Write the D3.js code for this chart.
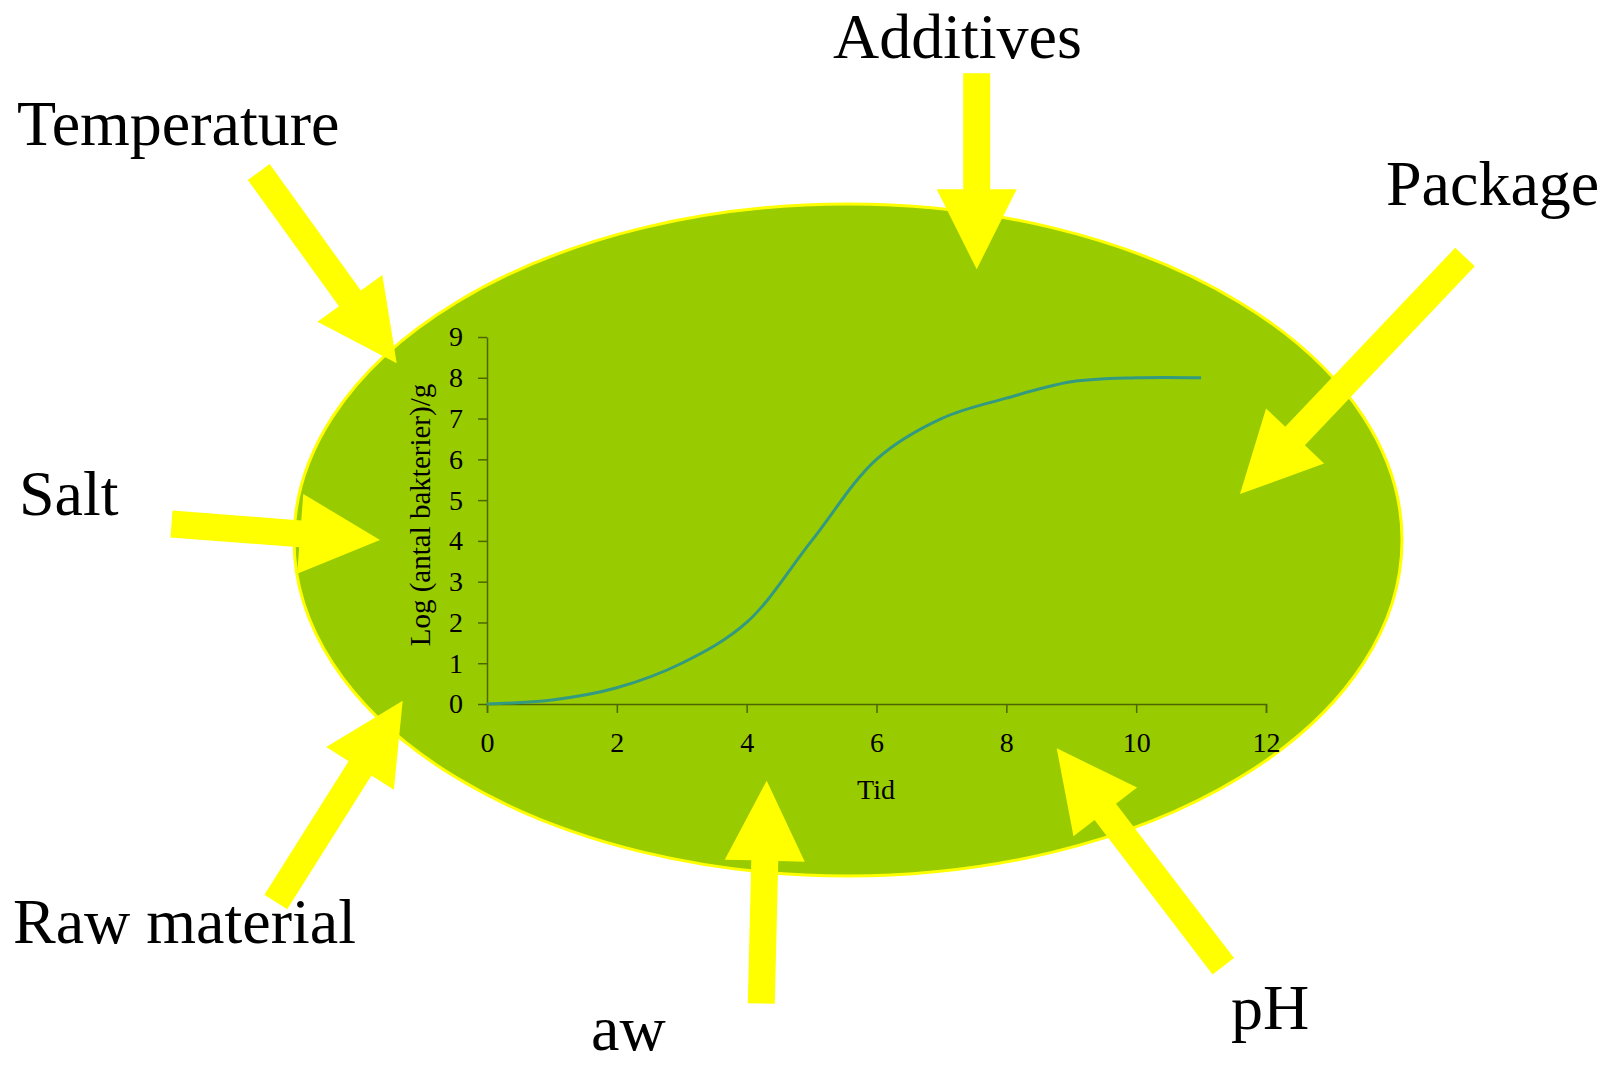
<!DOCTYPE html>
<html>

<head>
    <meta charset="utf-8">
    <script src="https://d3js.org/d3.v7.min.js"></script>
    <style type="text/css">
        body {
            margin: 0;
            background: white;
        }

        .factor {
            font-family: "Liberation Serif", "Times New Roman", serif;
            font-size: 64px;
            fill: black;
        }

        .axis text {
            font-family: "Liberation Serif", "Times New Roman", serif;
            font-size: 28px;
            fill: black;
        }

        .axis path,
        .axis line {
            stroke: #4d6600;
            stroke-width: 1.5;
        }

        .label {
            font-family: "Liberation Serif", "Times New Roman", serif;
            font-size: 28px;
            fill: black;
        }
    </style>
</head>

<body>

    <div id="my_dataviz"></div>

    <script>

        // growth curve
        const tid = [0, 1, 2, 3, 4, 5, 6, 7, 8, 9, 10, 11];
        const logBakterier = [0, 0.1, 0.4, 1, 2, 4, 6, 7, 7.5, 7.9, 8, 8];

        const xTicks = [0, 2, 4, 6, 8, 10, 12];
        const yTicks = [0, 1, 2, 3, 4, 5, 6, 7, 8, 9];

        // factors around the food
        const factors = ["Temperature", "Additives", "Package", "Salt", "Raw material", "aw", "pH"];

        const W = 1616, H = 1066;

        const svg = d3.select("#my_dataviz")
            .append("svg")
            .attr("width", W)
            .attr("height", H);

        // the food (ellipse)
        svg.append("ellipse")
            .attr("cx", 848)
            .attr("cy", 540)
            .attr("rx", 554)
            .attr("ry", 336)
            .attr("fill", "#99cc00")
            .attr("stroke", "#ffff00")
            .attr("stroke-width", 3);

        // chart inside the ellipse
        const plot = { left: 487, right: 1266, top: 337, bottom: 704 };

        const x = d3.scaleLinear()
            .domain([0, 12])
            .range([plot.left, plot.right]);

        const y = d3.scaleLinear()
            .domain([0, 9])
            .range([plot.bottom, plot.top]);

        svg.append("g")
            .attr("class", "axis")
            .attr("transform", `translate(0, ${plot.bottom})`)
            .call(d3.axisBottom(x)
                .tickValues(xTicks)
                .tickSize(9)
                .tickSizeOuter(9)
                .tickPadding(19)
                .tickFormat(d3.format("d")));

        svg.append("g")
            .attr("class", "axis")
            .attr("transform", `translate(${plot.left}, 0)`)
            .call(d3.axisLeft(y)
                .tickValues(yTicks)
                .tickSize(9)
                .tickSizeOuter(0)
                .tickPadding(15)
                .tickFormat(d3.format("d")));

        svg.selectAll(".axis text").attr("font-family", null);

        svg.append("path")
            .datum(tid.map((t, i) => ({ t: t, v: logBakterier[i] })))
            .attr("fill", "none")
            .attr("stroke", "#339980")
            .attr("stroke-width", 3)
            .attr("d", d3.line()
                .curve(d3.curveCatmullRom)
                .x(d => x(d.t))
                .y(d => y(d.v)));

        svg.append("text")
            .attr("class", "label")
            .attr("text-anchor", "middle")
            .attr("x", 876)
            .attr("y", 799)
            .text("Tid");

        svg.append("text")
            .attr("class", "label")
            .attr("text-anchor", "middle")
            .style("font-size", "29px")
            .attr("transform", "translate(430, 515) rotate(-90)")
            .text("Log (antal bakterier)/g");

        // arrows: tail -> tip
        const arrows = [
            { tail: [258.7, 172], tip: [396.7, 363.3] },
            { tail: [976.7, 73.3], tip: [976.7, 269.3] },
            { tail: [1465, 257], tip: [1240, 494] },
            { tail: [171.5, 524], tip: [380, 540] },
            { tail: [275.8, 902], tip: [402.7, 700.7] },
            { tail: [761.3, 1003.5], tip: [766.7, 780.7] },
            { tail: [1223.3, 966.3], tip: [1056.7, 748.3] }
        ];

        const shaftW = 27, headW = 80, headL = 80;

        function arrowPoints(a) {
            const dx = a.tip[0] - a.tail[0], dy = a.tip[1] - a.tail[1];
            const len = Math.sqrt(dx * dx + dy * dy);
            const ux = dx / len, uy = dy / len;
            const nx = -uy, ny = ux;
            const bx = a.tip[0] - ux * headL, by = a.tip[1] - uy * headL;
            return [
                [a.tail[0] + nx * shaftW / 2, a.tail[1] + ny * shaftW / 2],
                [bx + nx * shaftW / 2, by + ny * shaftW / 2],
                [bx + nx * headW / 2, by + ny * headW / 2],
                a.tip,
                [bx - nx * headW / 2, by - ny * headW / 2],
                [bx - nx * shaftW / 2, by - ny * shaftW / 2],
                [a.tail[0] - nx * shaftW / 2, a.tail[1] - ny * shaftW / 2]
            ];
        }

        svg.selectAll(".arrow")
            .data(arrows)
            .join("polygon")
            .attr("class", "arrow")
            .attr("fill", "#ffff00")
            .attr("points", d => arrowPoints(d).map(p => p.join(",")).join(" "));

        // factor labels
        const labelPos = [
            [17, 145], [833, 58], [1386, 205], [19, 515], [13, 943], [591, 1050], [1231, 1029]
        ];

        svg.selectAll(".factor")
            .data(factors)
            .join("text")
            .attr("class", "factor")
            .attr("x", (d, i) => labelPos[i][0])
            .attr("y", (d, i) => labelPos[i][1])
            .text(d => d);

    </script>

</body>

</html>
